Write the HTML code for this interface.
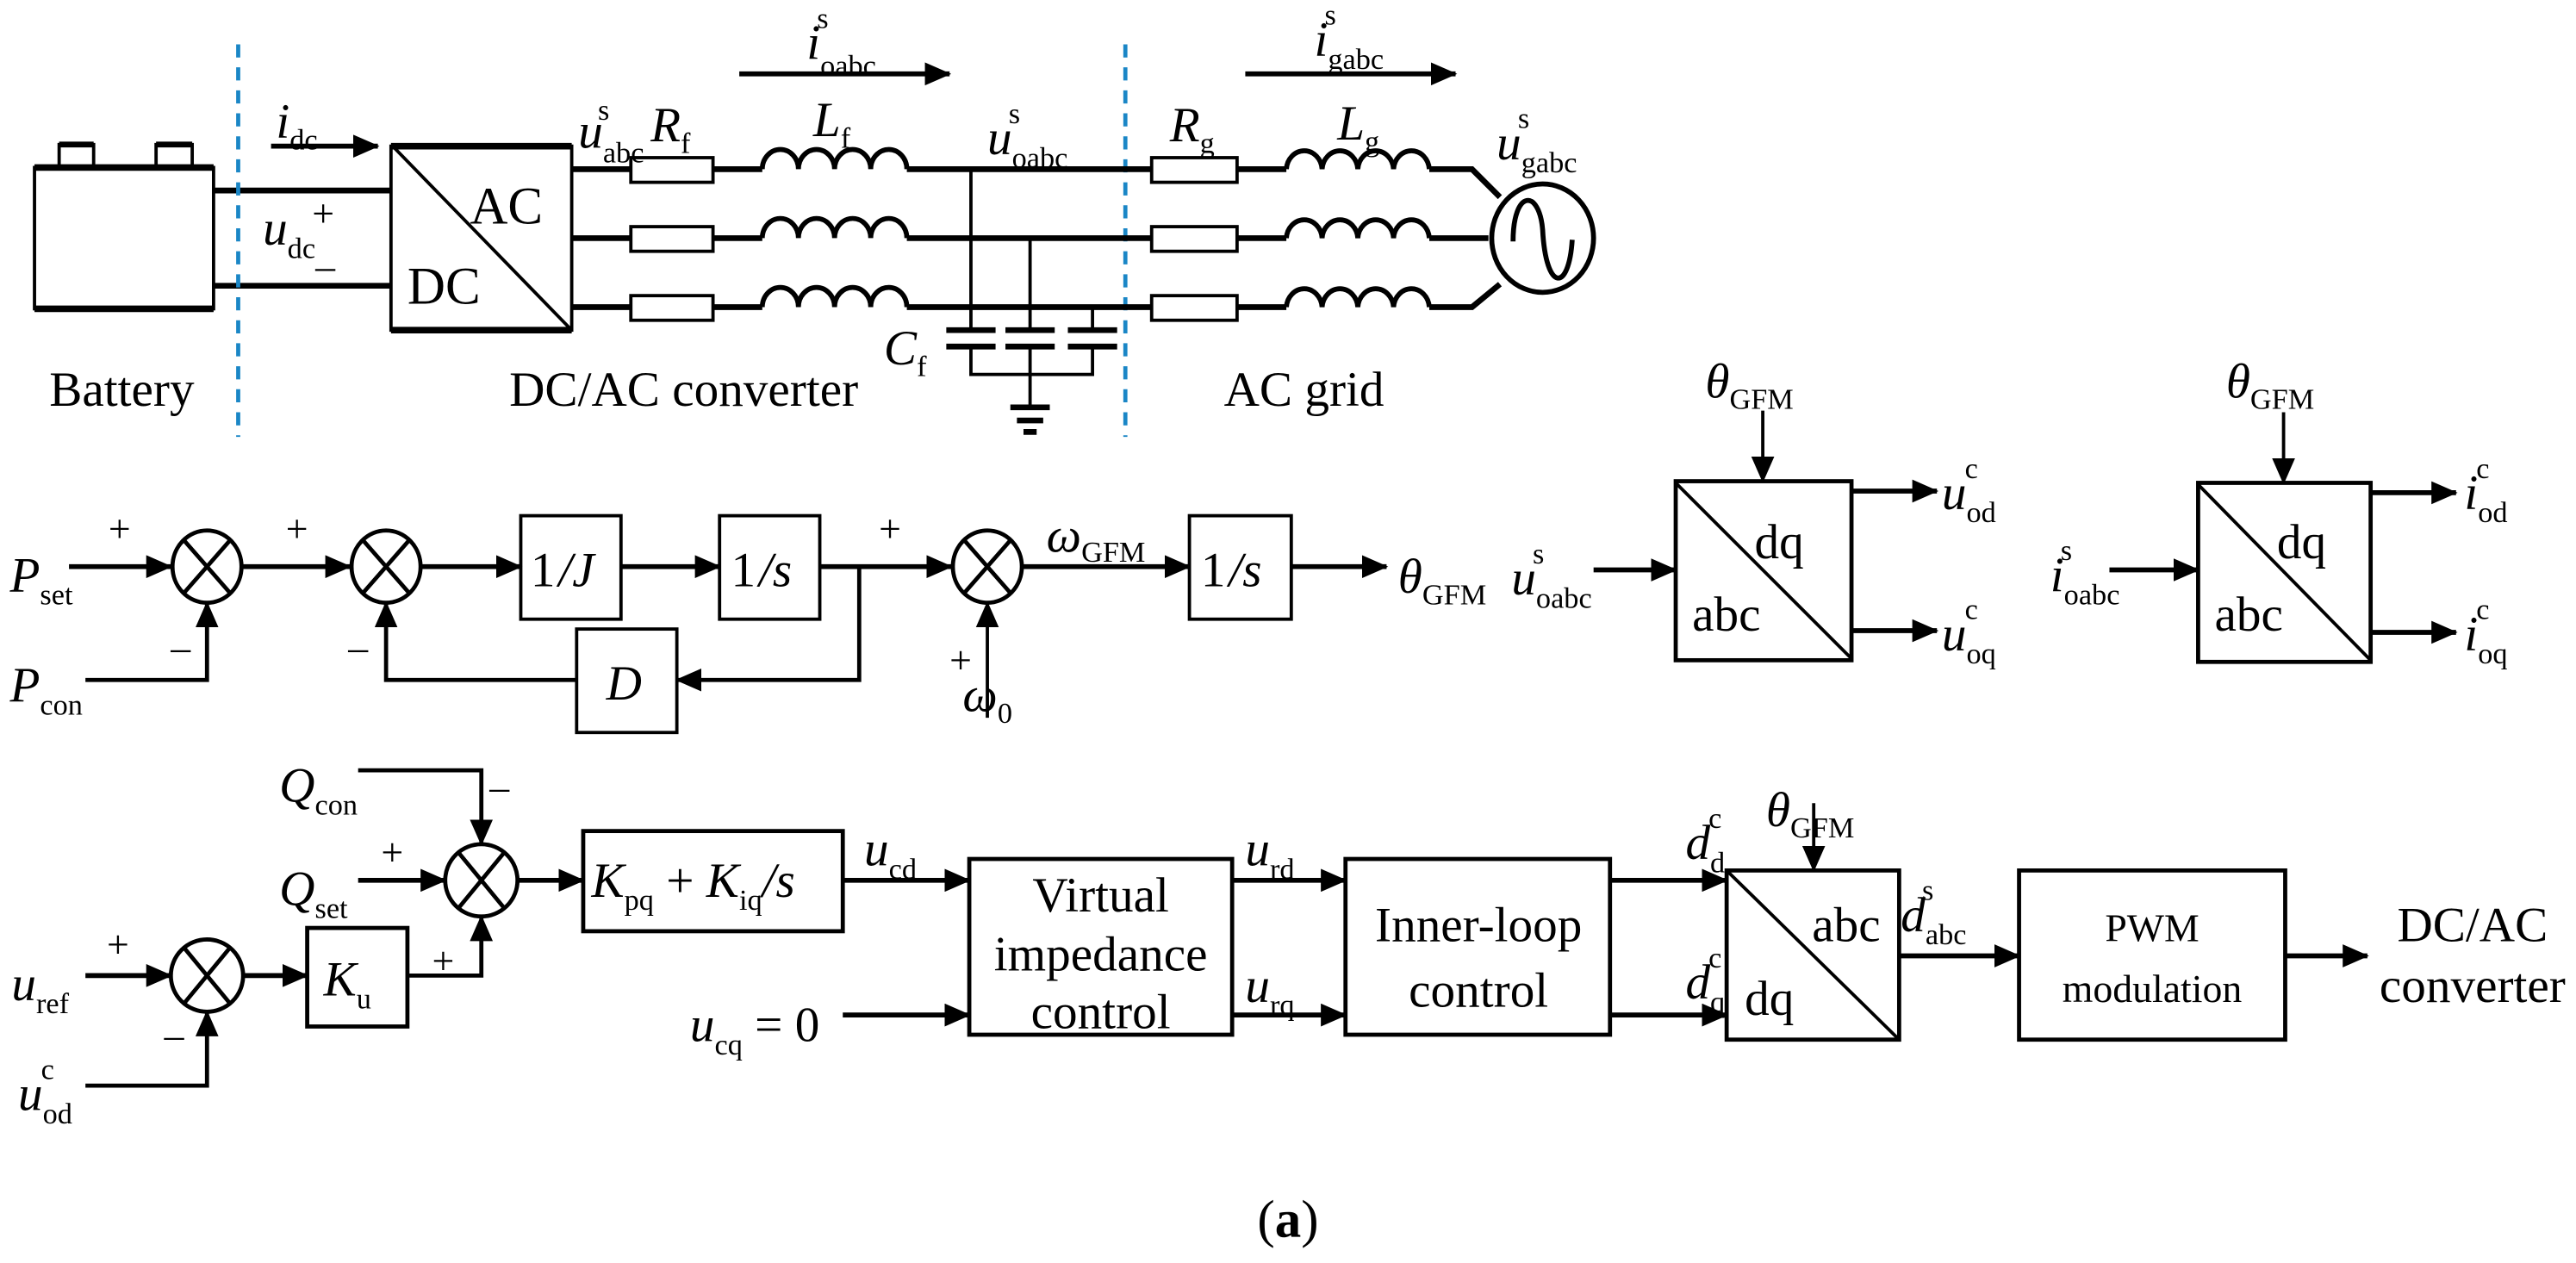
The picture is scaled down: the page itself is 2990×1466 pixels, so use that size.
<!DOCTYPE html>
<html><head><meta charset="utf-8"><style>
html,body{margin:0;padding:0;background:#fff;}
svg{display:block;}
text{font-family:"Liberation Serif",serif;fill:#000;}
.v{font-style:italic;}
</style></head><body>
<svg width="2990" height="1466" viewBox="0 0 1568 769" preserveAspectRatio="none" xmlns="http://www.w3.org/2000/svg">
<defs>
<marker id="a" markerUnits="userSpaceOnUse" markerWidth="16" markerHeight="14" refX="15" refY="7" orient="auto"><path d="M0,0 L16,7 L0,14 Z" fill="#000"/></marker>
</defs>
<g stroke="#000" fill="none" stroke-width="2">
<rect x="21" y="102" width="109" height="86" stroke-width="2"/>
<line x1="21" y1="102" x2="130" y2="102" stroke-width="4"/>
<line x1="21" y1="188" x2="130" y2="188" stroke-width="4"/>
<path d="M36,102 V88 H57 V102 M95,102 V88 H117 V102"/>
<line x1="36" y1="88" x2="57" y2="88" stroke-width="3.5"/>
<line x1="95" y1="88" x2="117" y2="88" stroke-width="3.5"/>
<line x1="130" y1="116" x2="238" y2="116" stroke-width="3.5"/>
<line x1="130" y1="174" x2="238" y2="174" stroke-width="3.5"/>
<line x1="145" y1="27" x2="145" y2="266" stroke="#1a86c6" stroke-width="2.5" stroke-dasharray="8,6"/>
<line x1="685" y1="27" x2="685" y2="266" stroke="#1a86c6" stroke-width="2.5" stroke-dasharray="8,6"/>
<line x1="165" y1="89" x2="230" y2="89" stroke-width="3" marker-end="url(#a)"/>
<line x1="450" y1="45" x2="578" y2="45" stroke-width="3" marker-end="url(#a)"/>
<line x1="758" y1="45" x2="886" y2="45" stroke-width="3" marker-end="url(#a)"/>
<rect x="238" y="89" width="110" height="112"/>
<line x1="238" y1="89" x2="348" y2="89" stroke-width="4"/>
<line x1="238" y1="201" x2="348" y2="201" stroke-width="4"/>
<line x1="240" y1="90" x2="347" y2="200"/>
<g stroke-width="3.5">
<path d="M348,103 H384 M434,103 H464 M552,103 H701 M753,103 H783 M870,103 H896 L913,120"/>
<path d="M348,145 H384 M434,145 H464 M552,145 H701 M753,145 H783 M870,145 H906"/>
<path d="M348,187 H384 M434,187 H464 M552,187 H701 M753,187 H783 M870,187 H896 L913,173"/>
</g>
<g stroke-width="2">
<rect x="384" y="96" width="50" height="15"/><rect x="384" y="138" width="50" height="15"/><rect x="384" y="180" width="50" height="15"/>
<rect x="701" y="96" width="52" height="15"/><rect x="701" y="138" width="52" height="15"/><rect x="701" y="180" width="52" height="15"/>
</g>
<g stroke-width="3">
<path d="M464,103 a11,12 0 0 1 22,0 a11,12 0 0 1 22,0 a11,12 0 0 1 22,0 a11,12 0 0 1 22,0"/>
<path d="M464,145 a11,12 0 0 1 22,0 a11,12 0 0 1 22,0 a11,12 0 0 1 22,0 a11,12 0 0 1 22,0"/>
<path d="M464,187 a11,12 0 0 1 22,0 a11,12 0 0 1 22,0 a11,12 0 0 1 22,0 a11,12 0 0 1 22,0"/>
<path d="M783,103 a10.9,12 0 0 1 21.75,0 a10.9,12 0 0 1 21.75,0 a10.9,12 0 0 1 21.75,0 a10.9,12 0 0 1 21.75,0"/>
<path d="M783,145 a10.9,12 0 0 1 21.75,0 a10.9,12 0 0 1 21.75,0 a10.9,12 0 0 1 21.75,0 a10.9,12 0 0 1 21.75,0"/>
<path d="M783,187 a10.9,12 0 0 1 21.75,0 a10.9,12 0 0 1 21.75,0 a10.9,12 0 0 1 21.75,0 a10.9,12 0 0 1 21.75,0"/>
</g>
<path d="M591,103 V201 M627,145 V201 M665,187 V201 M591,211 V228 H665 V211 M627,211 V248"/>
<g stroke-width="3.5">
<path d="M576,201 H606 M612,201 H642 M650,201 H680 M576,211 H606 M612,211 H642 M650,211 H680"/>
<path d="M615,248 H639 M619,256 H635 M623,263 H631"/>
</g>
<ellipse cx="939" cy="145" rx="31" ry="33" stroke-width="3"/>
<path d="M921,147 C921,115 937,115 939,140 C941,178 955,178 957,146" stroke-width="3"/>
<g stroke-width="3">
<line x1="42" y1="345" x2="104" y2="345" marker-end="url(#a)"/>
<line x1="147" y1="345" x2="213" y2="345" marker-end="url(#a)"/>
<line x1="256" y1="345" x2="317" y2="345" marker-end="url(#a)"/>
<line x1="378" y1="345" x2="438" y2="345" marker-end="url(#a)"/>
<line x1="499" y1="345" x2="579" y2="345" marker-end="url(#a)"/>
<line x1="622" y1="345" x2="724" y2="345" marker-end="url(#a)"/>
<line x1="786" y1="345" x2="844" y2="345" marker-end="url(#a)"/>
</g>
<path d="M52,414 H126 V367" marker-end="url(#a)" stroke-width="2.5"/>
<path d="M523,345 V414 H412" marker-end="url(#a)" stroke-width="2.5"/>
<path d="M351,414 H235 V367" marker-end="url(#a)" stroke-width="2.5"/>
<path d="M601,437 V367" marker-end="url(#a)" stroke-width="2"/>
<g stroke-width="2.5">
<ellipse cx="126" cy="345" rx="21" ry="22"/><path d="M112,329 L140,361 M140,329 L112,361"/>
<ellipse cx="235" cy="345" rx="21" ry="22"/><path d="M221,329 L249,361 M249,329 L221,361"/>
<ellipse cx="601" cy="345" rx="21" ry="22"/><path d="M587,329 L615,361 M615,329 L587,361"/>
</g>
<rect x="317" y="314" width="61" height="63"/>
<rect x="438" y="314" width="61" height="63"/>
<rect x="724" y="314" width="62" height="63"/>
<rect x="351" y="383" width="61" height="63"/>
<rect x="1020" y="293" width="107" height="109" stroke-width="2.5"/>
<line x1="1020" y1="294" x2="1127" y2="401"/>
<line x1="1073" y1="250" x2="1073" y2="293" marker-end="url(#a)"/>
<line x1="970" y1="347" x2="1020" y2="347" stroke-width="3" marker-end="url(#a)"/>
<line x1="1127" y1="299" x2="1179" y2="299" stroke-width="3" marker-end="url(#a)"/>
<line x1="1127" y1="384" x2="1179" y2="384" stroke-width="3" marker-end="url(#a)"/>
<rect x="1338" y="294" width="105" height="109" stroke-width="2.5"/>
<line x1="1338" y1="295" x2="1443" y2="402"/>
<line x1="1390" y1="251" x2="1390" y2="294" marker-end="url(#a)"/>
<line x1="1284" y1="347" x2="1338" y2="347" stroke-width="3" marker-end="url(#a)"/>
<line x1="1443" y1="300" x2="1495" y2="300" stroke-width="3" marker-end="url(#a)"/>
<line x1="1443" y1="385" x2="1495" y2="385" stroke-width="3" marker-end="url(#a)"/>
<path d="M218,469 H293 V514" marker-end="url(#a)" stroke-width="2.5"/>
<line x1="218" y1="536" x2="271" y2="536" stroke-width="3" marker-end="url(#a)"/>
<line x1="315" y1="536" x2="355" y2="536" stroke-width="3" marker-end="url(#a)"/>
<line x1="513" y1="536" x2="590" y2="536" stroke-width="3" marker-end="url(#a)"/>
<line x1="52" y1="594" x2="104" y2="594" stroke-width="3" marker-end="url(#a)"/>
<line x1="147" y1="594" x2="187" y2="594" stroke-width="3" marker-end="url(#a)"/>
<path d="M248,594 H293 V558" marker-end="url(#a)" stroke-width="2.5"/>
<path d="M52,661 H126 V616" marker-end="url(#a)" stroke-width="2.5"/>
<line x1="513" y1="618" x2="590" y2="618" stroke-width="3" marker-end="url(#a)"/>
<line x1="750" y1="536" x2="819" y2="536" stroke-width="3" marker-end="url(#a)"/>
<line x1="750" y1="618" x2="819" y2="618" stroke-width="3" marker-end="url(#a)"/>
<line x1="980" y1="536" x2="1051" y2="536" stroke-width="3" marker-end="url(#a)"/>
<line x1="980" y1="618" x2="1051" y2="618" stroke-width="3" marker-end="url(#a)"/>
<line x1="1104" y1="489" x2="1104" y2="530" marker-end="url(#a)"/>
<line x1="1156" y1="582" x2="1229" y2="582" stroke-width="3" marker-end="url(#a)"/>
<line x1="1391" y1="582" x2="1441" y2="582" stroke-width="3" marker-end="url(#a)"/>
<g stroke-width="2.5">
<ellipse cx="293" cy="536" rx="22" ry="22"/><path d="M279,519 L307,553 M307,519 L279,553"/>
<ellipse cx="126" cy="594" rx="22" ry="22"/><path d="M112,577 L140,611 M140,577 L112,611"/>
</g>
<rect x="355" y="506" width="158" height="61" stroke-width="2.5"/>
<rect x="187" y="565" width="61" height="60" stroke-width="2.5"/>
<rect x="590" y="523" width="160" height="107" stroke-width="2.5"/>
<rect x="819" y="523" width="161" height="107" stroke-width="2.5"/>
<rect x="1051" y="530" width="105" height="103" stroke-width="2.5"/>
<line x1="1052" y1="531" x2="1155" y2="632"/>
<rect x="1229" y="530" width="162" height="103" stroke-width="2.5"/>
</g>

<g font-size="30">
<text x="30" y="247">Battery</text>
<text x="310" y="247">DC/AC converter</text>
<text x="745" y="247">AC grid</text>
<text x="286" y="136" font-size="32">AC</text>
<text x="248" y="185" font-size="32">DC</text>
<text x="168" y="84" class="v">i<tspan font-size="18" dy="7" font-style="normal">dc</tspan></text>
<text x="160" y="149" class="v">u<tspan font-size="18" dy="8" font-style="normal">dc</tspan></text>
<text x="190" y="138" font-size="24">+</text>
<text x="192" y="170" font-size="24">–</text>
<text x="352" y="90" class="v">u<tspan font-size="18" dy="9" font-style="normal">abc</tspan><tspan font-size="18" dx="-28" dy="-26" font-style="normal">s</tspan></text>
<text x="396" y="86" class="v">R<tspan font-size="18" dy="7" font-style="normal">f</tspan></text>
<text x="495" y="83" class="v">L<tspan font-size="18" dy="7" font-style="normal">f</tspan></text>
<text x="601" y="94" class="v">u<tspan font-size="18" dy="8" font-style="normal">oabc</tspan><tspan font-size="18" dx="-36" dy="-27" font-style="normal">s</tspan></text>
<text x="491" y="36" class="v">i<tspan font-size="18" dy="10" font-style="normal">oabc</tspan><tspan font-size="18" dx="-36" dy="-29" font-style="normal">s</tspan></text>
<text x="712" y="86" class="v">R<tspan font-size="18" dy="7" font-style="normal">g</tspan></text>
<text x="814" y="85" class="v">L<tspan font-size="18" dy="7" font-style="normal">g</tspan></text>
<text x="800" y="34" class="v">i<tspan font-size="18" dy="8" font-style="normal">gabc</tspan><tspan font-size="18" dx="-36" dy="-27" font-style="normal">s</tspan></text>
<text x="911" y="97" class="v">u<tspan font-size="18" dy="8" font-style="normal">gabc</tspan><tspan font-size="18" dx="-36" dy="-27" font-style="normal">s</tspan></text>
<text x="538" y="222" class="v">C<tspan font-size="18" dy="7" font-style="normal">f</tspan></text>

<text x="6" y="360" class="v">P<tspan font-size="18" dy="8" font-style="normal">set</tspan></text>
<text x="6" y="427" class="v">P<tspan font-size="18" dy="8" font-style="normal">con</tspan></text>
<text x="66" y="330" font-size="24">+</text>
<text x="174" y="330" font-size="24">+</text>
<text x="535" y="330" font-size="24">+</text>
<text x="104" y="402" font-size="24">–</text>
<text x="212" y="402" font-size="24">–</text>
<text x="578" y="410" font-size="24">+</text>
<text x="323" y="357">1<tspan class="v" dx="2">/</tspan><tspan class="v">J</tspan></text>
<text x="445" y="357">1<tspan class="v" dx="2">/</tspan><tspan class="v">s</tspan></text>
<text x="731" y="357">1<tspan class="v" dx="2">/</tspan><tspan class="v">s</tspan></text>
<text x="369" y="426" class="v">D</text>
<text x="637" y="336" class="v">ω<tspan font-size="18" dy="6" font-style="normal">GFM</tspan></text>
<text x="586" y="433" class="v">ω<tspan font-size="18" dy="7" font-style="normal">0</tspan></text>
<text x="851" y="361" class="v">θ<tspan font-size="18" dy="7" font-style="normal">GFM</tspan></text>
<text x="920" y="362" class="v">u<tspan font-size="18" dy="8" font-style="normal">oabc</tspan><tspan font-size="18" dx="-36" dy="-27" font-style="normal">s</tspan></text>
<text x="1038" y="242" class="v">θ<tspan font-size="18" dy="7" font-style="normal">GFM</tspan></text>
<text x="1355" y="242" class="v">θ<tspan font-size="18" dy="7" font-style="normal">GFM</tspan></text>
<text x="1068" y="340">dq</text>
<text x="1030" y="384">abc</text>
<text x="1386" y="340">dq</text>
<text x="1348" y="384">abc</text>
<text x="1182" y="310" class="v">u<tspan font-size="18" dy="8" font-style="normal">od</tspan><tspan font-size="18" dx="-19" dy="-27" font-style="normal">c</tspan></text>
<text x="1182" y="396" class="v">u<tspan font-size="18" dy="8" font-style="normal">oq</tspan><tspan font-size="18" dx="-19" dy="-27" font-style="normal">c</tspan></text>
<text x="1500" y="310" class="v">i<tspan font-size="18" dy="8" font-style="normal">od</tspan><tspan font-size="18" dx="-19" dy="-27" font-style="normal">c</tspan></text>
<text x="1500" y="396" class="v">i<tspan font-size="18" dy="8" font-style="normal">oq</tspan><tspan font-size="18" dx="-19" dy="-27" font-style="normal">c</tspan></text>
<text x="1248" y="360" class="v">i<tspan font-size="18" dy="8" font-style="normal">oabc</tspan><tspan font-size="18" dx="-36" dy="-27" font-style="normal">s</tspan></text>

<text x="170" y="488" class="v">Q<tspan font-size="18" dy="8" font-style="normal">con</tspan></text>
<text x="170" y="551" class="v">Q<tspan font-size="18" dy="8" font-style="normal">set</tspan></text>
<text x="298" y="487" font-size="24">–</text>
<text x="232" y="527" font-size="24">+</text>
<text x="263" y="593" font-size="24">+</text>
<text x="65" y="583" font-size="24">+</text>
<text x="100" y="638" font-size="24">–</text>
<text x="7" y="609" class="v">u<tspan font-size="18" dy="8" font-style="normal">ref</tspan></text>
<text x="11" y="676" class="v">u<tspan font-size="18" dy="8" font-style="normal">od</tspan><tspan font-size="18" dx="-19" dy="-27" font-style="normal">c</tspan></text>
<text x="197" y="606" class="v">K<tspan font-size="18" dy="8" font-style="normal">u</tspan></text>
<text x="360" y="546" class="v">K<tspan font-size="18" dy="8" font-style="normal">pq</tspan><tspan font-style="normal" dy="-8"> + </tspan>K<tspan font-size="18" dy="8" font-style="normal">iq</tspan><tspan dy="-8">/s</tspan></text>
<text x="526" y="527" class="v">u<tspan font-size="18" dy="8" font-style="normal">cd</tspan></text>
<text x="420" y="634" class="v">u<tspan font-size="18" dy="8" font-style="normal">cq</tspan><tspan font-style="normal" dy="-8"> = 0</tspan></text>
<text x="758" y="527" class="v">u<tspan font-size="18" dy="8" font-style="normal">rd</tspan></text>
<text x="758" y="610" class="v">u<tspan font-size="18" dy="8" font-style="normal">rq</tspan></text>
<text x="670" y="555" text-anchor="middle">Virtual</text>
<text x="670" y="591" text-anchor="middle">impedance</text>
<text x="670" y="626" text-anchor="middle">control</text>
<text x="900" y="573" text-anchor="middle">Inner-loop</text>
<text x="900" y="613" text-anchor="middle">control</text>
<text x="1026" y="523" class="v">d<tspan font-size="18" dy="8" font-style="normal">d</tspan><tspan font-size="18" dx="-10" dy="-27" font-style="normal">c</tspan></text>
<text x="1026" y="608" class="v">d<tspan font-size="18" dy="8" font-style="normal">q</tspan><tspan font-size="18" dx="-10" dy="-27" font-style="normal">c</tspan></text>
<text x="1075" y="503" class="v">θ<tspan font-size="18" dy="7" font-style="normal">GFM</tspan></text>
<text x="1103" y="573">abc</text>
<text x="1062" y="618">dq</text>
<text x="1157" y="567" class="v">d<tspan font-size="18" dy="8" font-style="normal">abc</tspan><tspan font-size="18" dx="-27" dy="-27" font-style="normal">s</tspan></text>
<text x="1310" y="573" text-anchor="middle" font-size="24">PWM</text>
<text x="1310" y="610" text-anchor="middle" font-size="24">modulation</text>
<text x="1505" y="573" text-anchor="middle">DC/AC</text>
<text x="1505" y="610" text-anchor="middle">converter</text>
<text x="784" y="753" text-anchor="middle" font-size="32">(<tspan font-weight="bold">a</tspan>)</text>
</g>
</svg>
</body></html>
